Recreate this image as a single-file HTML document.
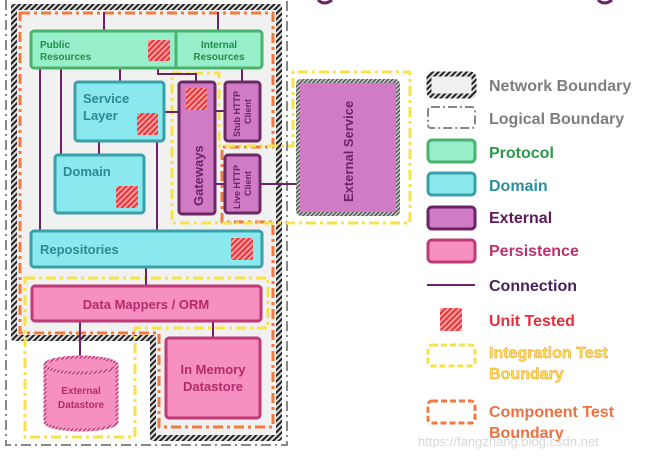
<!DOCTYPE html>
<html><head><meta charset="utf-8"><style>
html,body{margin:0;padding:0;background:#fff;width:648px;height:459px;overflow:hidden}
text{font-family:"Liberation Sans",sans-serif;font-weight:bold}
</style></head><body>
<svg width="648" height="459" viewBox="0 0 648 459" xmlns="http://www.w3.org/2000/svg">
<defs>
<pattern id="hg" width="4" height="4" patternUnits="userSpaceOnUse" patternTransform="rotate(45)"><rect width="4" height="4" fill="#ddd"/><rect width="2" height="4" fill="#222"/></pattern>
<pattern id="hr" width="4" height="4" patternUnits="userSpaceOnUse" patternTransform="rotate(45)"><rect width="4" height="4" fill="#f9a0a0"/><rect width="2" height="4" fill="#e8333a"/></pattern>
<pattern id="hp" width="3" height="3" patternUnits="userSpaceOnUse" patternTransform="rotate(45)"><rect width="3" height="3" fill="#f5b0d0"/><rect width="1.5" height="3" fill="#c03a78"/></pattern>
<pattern id="hx" width="3" height="3" patternUnits="userSpaceOnUse" patternTransform="rotate(45)"><rect width="3" height="3" fill="#ccc"/><rect width="1.5" height="3" fill="#555"/></pattern>
</defs>
<!-- title descenders -->
<path d="M318 0 q6 6 14 0" stroke="#6b2366" stroke-width="3" fill="none"/>
<path d="M598 0 q6 6 14 0" stroke="#6b2366" stroke-width="3" fill="none"/>
<!-- logical boundary -->
<path d="M6 0 V445 H287 V0" fill="none" stroke="#888" stroke-width="2" stroke-dasharray="10,4,2,4"/>
<!-- network boundary -->
<path d="M14 7 H279 V438 H153 V338 H14 Z" fill="#f1f1f1" stroke="url(#hg)" stroke-width="6" stroke-linejoin="round"/>
<!-- component boundary orange -->
<path d="M20 13 H273 V147 H222 V222 H273 V427 H159 V333 H20 Z" fill="none" stroke="#f07a40" stroke-width="3" stroke-dasharray="10,4,3,4" stroke-linejoin="round"/>
<!-- integration yellow -->
<path d="M172 73 H219 V146 H293 V72 H410 V223 H172 Z" fill="none" stroke="#f7e24a" stroke-width="3" stroke-dasharray="10,4,3,4" stroke-linejoin="round"/>
<path d="M25 278 H268 V328 H135 V437 H25 Z" fill="none" stroke="#f7e24a" stroke-width="3" stroke-dasharray="10,4,3,4" stroke-linejoin="round"/>
<!-- connectors -->
<g stroke="#6b2366" stroke-width="2" fill="none">
<path d="M104 12V30M218 12V30M40 68V230M61 68V154M120 68V81M158 68V74H196V81M242 68V81M165 112H178M215 111H224M99 142V154M157 142V230M215 184H224M260 184H297M146 268V285M80 322V358M213 322V337"/>
</g>
<!-- protocol -->
<rect x="31" y="31" width="231" height="37" rx="3" fill="#96efc8" stroke="#4bb36b" stroke-width="3"/>
<line x1="176" y1="31" x2="176" y2="68" stroke="#4bb36b" stroke-width="3"/>
<text x="40" y="48" font-size="10" fill="#2a8a4a">Public</text>
<text x="40" y="60" font-size="10" fill="#2a8a4a">Resources</text>
<text x="219" y="48" font-size="10" fill="#2a8a4a" text-anchor="middle">Internal</text>
<text x="219" y="60" font-size="10" fill="#2a8a4a" text-anchor="middle">Resources</text>
<!-- domain -->
<rect x="75" y="82" width="89" height="59" rx="3" fill="#8ae8ef" stroke="#3aa0a8" stroke-width="3"/>
<text x="83" y="103" font-size="13" fill="#2a8a95">Service</text>
<text x="83" y="120" font-size="13" fill="#2a8a95">Layer</text>
<rect x="55" y="155" width="89" height="58" rx="3" fill="#8ae8ef" stroke="#3aa0a8" stroke-width="3"/>
<text x="63" y="176" font-size="13" fill="#2a8a95">Domain</text>
<rect x="31" y="231" width="231" height="36" rx="3" fill="#8ae8ef" stroke="#3aa0a8" stroke-width="3"/>
<text x="40" y="254" font-size="13" fill="#2a8a95">Repositories</text>
<!-- external -->
<rect x="179" y="82" width="36" height="132" rx="3" fill="#d07cc4" stroke="#6b2a66" stroke-width="3"/>
<text transform="translate(203,206) rotate(-90)" font-size="13" fill="#6b2366">Gateways</text>
<rect x="225" y="82" width="35" height="59" rx="3" fill="#d07cc4" stroke="#6b2a66" stroke-width="3"/>
<text transform="translate(240,137) rotate(-90)" font-size="9" fill="#6b2366">Stub HTTP</text>
<text transform="translate(251,124) rotate(-90)" font-size="9" fill="#6b2366">Client</text>
<rect x="225" y="155" width="35" height="58" rx="3" fill="#d07cc4" stroke="#6b2a66" stroke-width="3"/>
<text transform="translate(240,209) rotate(-90)" font-size="9" fill="#6b2366">Live HTTP</text>
<text transform="translate(251,196) rotate(-90)" font-size="9" fill="#6b2366">Client</text>
<rect x="298" y="81" width="100" height="133" rx="3" fill="#d07cc4" stroke="url(#hx)" stroke-width="4"/>
<text transform="translate(353,202) rotate(-90)" font-size="13" fill="#6b2366">External Service</text>
<!-- persistence -->
<rect x="32" y="286" width="229" height="35" rx="3" fill="#f590c0" stroke="#c03a78" stroke-width="3"/>
<text x="146" y="309" font-size="13" fill="#b52a6a" text-anchor="middle">Data Mappers / ORM</text>
<rect x="166" y="338" width="94" height="80" rx="3" fill="#f590c0" stroke="#c03a78" stroke-width="3"/>
<text x="213" y="374" font-size="13" fill="#b52a6a" text-anchor="middle">In Memory</text>
<text x="213" y="391" font-size="13" fill="#b52a6a" text-anchor="middle">Datastore</text>
<path d="M45 365 V422 A36 8 0 0 0 117 422 V365" fill="#f590c0" stroke="url(#hp)" stroke-width="3"/>
<ellipse cx="81" cy="365" rx="36" ry="8" fill="#f590c0" stroke="url(#hp)" stroke-width="3"/>
<text x="81" y="394" font-size="10" fill="#b52a6a" text-anchor="middle">External</text>
<text x="81" y="408" font-size="10" fill="#b52a6a" text-anchor="middle">Datastore</text>
<!-- unit test squares -->
<g fill="url(#hr)">
<rect x="148" y="40" width="22" height="21" rx="2"/>
<rect x="137" y="113" width="21" height="22" rx="2"/>
<rect x="116" y="186" width="22" height="22" rx="2"/>
<rect x="186" y="88" width="21" height="22" rx="2"/>
<rect x="231" y="238" width="22" height="22" rx="2"/>
<rect x="440" y="308" width="22" height="23" rx="2"/>
</g>
<!-- legend -->
<rect x="429" y="74" width="45" height="22" rx="4" fill="#f0f0f0" stroke="url(#hg)" stroke-width="5"/>
<rect x="428" y="107" width="47" height="21" rx="3" fill="none" stroke="#888" stroke-width="2" stroke-dasharray="9,3,2,3"/>
<rect x="428" y="140" width="47" height="22" rx="4" fill="#96efc8" stroke="#4bb36b" stroke-width="3"/>
<rect x="428" y="173" width="47" height="22" rx="4" fill="#8ae8ef" stroke="#3aa0a8" stroke-width="3"/>
<rect x="428" y="207" width="47" height="22" rx="4" fill="#d07cc4" stroke="#6b2366" stroke-width="3"/>
<rect x="428" y="240" width="47" height="22" rx="4" fill="#f590c0" stroke="#c03a78" stroke-width="3"/>
<line x1="427" y1="285" x2="475" y2="285" stroke="#6b2366" stroke-width="2"/>
<rect x="428" y="345" width="47" height="21" rx="4" fill="none" stroke="#f7e24a" stroke-width="3" stroke-dasharray="6,3"/>
<rect x="428" y="401" width="47" height="22" rx="4" fill="none" stroke="#f07a40" stroke-width="3" stroke-dasharray="6,3"/>
<g font-size="16">
<text x="489" y="91" fill="#7e7e7e">Network Boundary</text>
<text x="489" y="124" fill="#7e7e7e">Logical Boundary</text>
<text x="489" y="158" fill="#2a9a4a">Protocol</text>
<text x="489" y="191" fill="#2a8f9a">Domain</text>
<text x="489" y="223" fill="#5b1a5a">External</text>
<text x="489" y="256" fill="#c0306e">Persistence</text>
<text x="489" y="291" fill="#4a2060">Connection</text>
<text x="489" y="326" fill="#e8303a">Unit Tested</text>
<text x="489" y="358" fill="#f7e04a" stroke="#f0a040" stroke-width="0.5">Integration Test</text>
<text x="489" y="379" fill="#f7e04a" stroke="#f0a040" stroke-width="0.5">Boundary</text>
<text x="489" y="417" fill="#f07040">Component Test</text>
<text x="489" y="438" fill="#f07040">Boundary</text>
</g>
<text x="418" y="446" font-size="13" fill="#d8d8d8" style="font-weight:normal">https://fangzhang.blog.csdn.net</text>
</svg>
</body></html>
